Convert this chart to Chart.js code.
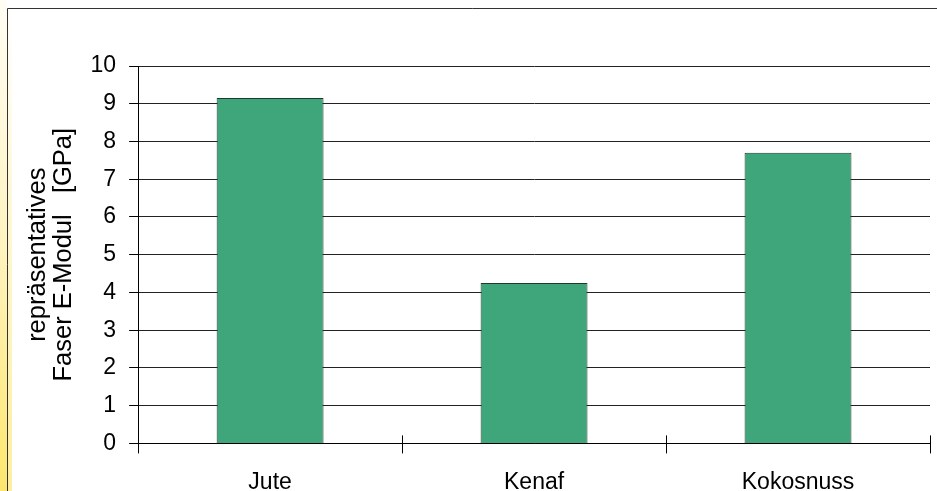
<!DOCTYPE html>
<html>
<head>
<meta charset="utf-8">
<script src="https://cdn.jsdelivr.net/npm/chart.js@4"></script>
<style>
  html, body { margin: 0; padding: 0; background: #fff; overflow: hidden; }
  #wrap { width: 937px; height: 491px; overflow: hidden; }
</style>
</head>
<body>
<div id="wrap"><canvas id="fibreChart" width="937" height="520"></canvas></div>
<script>
'use strict';

const categories = ['Jute', 'Kenaf', 'Kokosnuss'];
const moduleValues = [9.15, 4.25, 7.7];
const yTitleLines = ['repräsentatives', 'Faser E-Modul   [GPa]'];

const FONT = "'Liberation Sans', Arial, sans-serif";

// frame with the yellow stripe on the left, like the slide it came from
const framePlugin = {
  id: 'frame',
  beforeDraw(chart) {
    const c = chart.ctx;
    const h = chart.height;
    c.save();
    const g = c.createLinearGradient(0, 0, 0, 491);
    g.addColorStop(0, '#fffdf4');
    g.addColorStop(0.5, '#fff3c0');
    g.addColorStop(1, '#fde66e');
    c.fillStyle = g;
    c.fillRect(0, 0, 7, h);
    const g2 = c.createLinearGradient(0, 0, 0, 491);
    g2.addColorStop(0, '#ffffff');
    g2.addColorStop(1, '#fdeea0');
    c.fillStyle = g2;
    c.fillRect(8, 9, 4, h);
    c.strokeStyle = '#333';
    c.lineWidth = 1;
    c.beginPath();
    c.moveTo(7.5, h);
    c.lineTo(7.5, 8.5);
    c.lineTo(chart.width, 8.5);
    c.stroke();
    c.restore();
  },
  afterDraw(chart) {
    // category ticks cross the axis, draw the part above it
    const c = chart.ctx;
    const area = chart.chartArea;
    const n = categories.length;
    const step = (area.right - area.left) / n;
    c.save();
    c.strokeStyle = '#000';
    c.lineWidth = 1;
    c.beginPath();
    for (let i = 1; i <= n; i++) {
      const x = Math.round(area.left + step * i) + 0.5;
      c.moveTo(x, area.bottom - 8);
      c.lineTo(x, area.bottom);
    }
    c.stroke();
    c.restore();
  }
};

const ctx = document.getElementById('fibreChart').getContext('2d');

const chart = new Chart(ctx, {
  type: 'bar',
  data: {
    labels: categories,
    datasets: [
      {
        data: moduleValues,
        backgroundColor: '#3ea67a',
        borderColor: '#1c3b2b',
        borderWidth: 1,
        categoryPercentage: 1,
        barPercentage: 0.405
      }
    ]
  },
  options: {
    responsive: false,
    devicePixelRatio: 1,
    animation: false,
    layout: {
      padding: { top: 66, right: 7, bottom: 9, left: 21 }
    },
    plugins: {
      legend: { display: false },
      tooltip: { enabled: false }
    },
    scales: {
      x: {
        offset: true,
        grid: {
          offset: true,
          drawOnChartArea: false,
          color: '#000',
          tickLength: 10
        },
        border: { color: '#000' },
        ticks: {
          color: '#000',
          padding: 15,
          font: { family: FONT, size: 23 }
        }
      },
      y: {
        min: 0,
        max: 10,
        grid: {
          color: '#222',
          tickLength: 9,
          tickColor: '#000'
        },
        border: { color: '#000' },
        ticks: {
          stepSize: 1,
          color: '#000',
          padding: 13,
          font: { family: FONT, size: 23 }
        },
        title: {
          display: true,
          text: yTitleLines,
          color: '#000',
          padding: { top: 4, bottom: 0 },
          font: { family: FONT, size: 25.5, lineHeight: 1.03 }
        }
      }
    }
  },
  plugins: [framePlugin]
});
</script>
</body>
</html>
